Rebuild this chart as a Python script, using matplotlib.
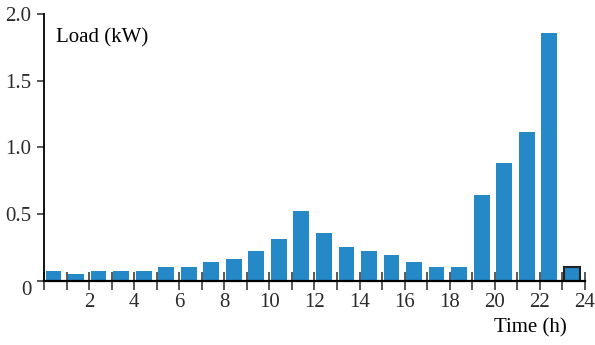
import matplotlib.pyplot as plt

hours = list(range(24))
load_kw = [0.07, 0.05, 0.07, 0.07, 0.07, 0.105, 0.105, 0.14, 0.16, 0.22,
           0.31, 0.52, 0.36, 0.25, 0.22, 0.195, 0.14, 0.105, 0.105, 0.645,
           0.885, 1.115, 1.86, 0.105]
tick_hours = list(range(25))
label_hours = list(range(2, 25, 2))

BAR_COLOR = "#2589C8"
TEXT_COLOR = "#2b2b2b"

plt.rcParams["font.family"] = ["Liberation Serif", "DejaVu Serif"]

fig = plt.figure(figsize=(5.95, 3.45), dpi=100)
ax = fig.add_axes([0.074, 0.186, 0.909, 0.773])

bars = ax.bar([h + 0.42 for h in hours], load_kw, width=0.7,
              color=BAR_COLOR, linewidth=0, zorder=2)
# last hour is drawn with an outline
bars[-1].set_edgecolor("#222222")
bars[-1].set_linewidth(1.5)

ax.set_xlim(0, 24)
ax.set_ylim(0, 2.0)

ax.spines["top"].set_visible(False)
ax.spines["right"].set_visible(False)
ax.spines["left"].set_linewidth(1.3)
ax.spines["bottom"].set_linewidth(1.6)
ax.spines["bottom"].set_zorder(3)

ax.set_xticks(tick_hours)
ax.set_xticklabels([str(h) if h in label_hours else "" for h in tick_hours])
ax.tick_params(axis="x", direction="inout", length=13, width=1.1,
               labelsize=15, colors=TEXT_COLOR, pad=2)

ax.set_yticks([0, 0.5, 1.0, 1.5, 2.0])
ax.set_yticklabels(["0", "0.5", "1.0", "1.5", "2.0"])
ax.tick_params(axis="y", direction="out", length=5, width=1.1,
               labelsize=15, colors=TEXT_COLOR, pad=4)
ax.get_yticklabels()[0].set_va("top")

ax.text(0.022, 0.91, "Load (kW)", transform=ax.transAxes, fontsize=15,
        color="black", va="center", ha="left")
ax.text(0.9, -0.175, "Time (h)", transform=ax.transAxes, fontsize=15,
        color="black", va="center", ha="center")

fig.savefig("out.png", dpi=100)
